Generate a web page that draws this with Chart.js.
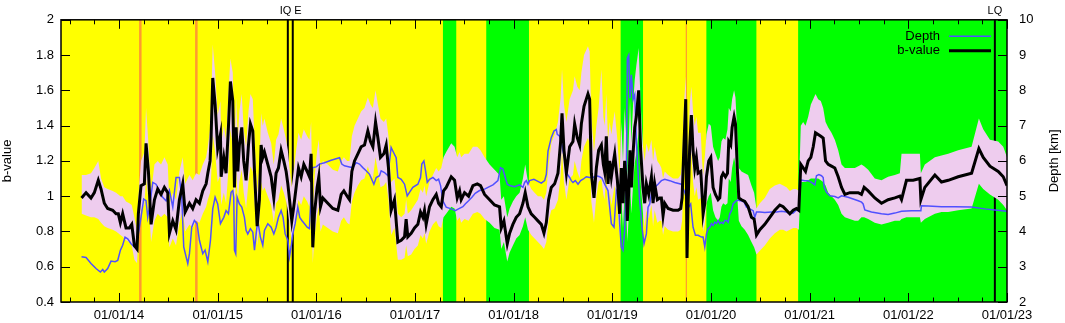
<!DOCTYPE html>
<html><head><meta charset="utf-8">
<script src="https://cdn.jsdelivr.net/npm/chart.js@4.4.0/dist/chart.umd.min.js"></script>
<style>html,body{margin:0;padding:0;background:#fff;}#wrap{width:1065px;height:323px;}</style>
</head><body><div id="wrap"><canvas id="c" width="1065" height="323"></canvas></div>
<script>
// ---------- DATA (x = decimal year) ----------
const yearTicks = [2014,2015,2016,2017,2018,2019,2020,2021,2022,2023];

const bYear = [
2013.620,2013.666,2013.716,2013.750,2013.790,2013.818,2013.851,2013.885,2013.936,2013.970,2013.993,2014.014,2014.037,2014.071,2014.105,2014.129,2014.156,2014.183,2014.196,
2014.223,2014.257,2014.274,2014.298,2014.325,2014.359,2014.392,2014.426,2014.460,2014.494,2014.511,2014.545,2014.578,2014.612,2014.646,2014.670,2014.714,2014.747,2014.781,2014.815,2014.849,2014.883,2014.900,2014.923,2014.933,2014.950,2014.974,2015.000,2015.028,
2015.035,2015.062,2015.085,2015.109,2015.129,2015.153,2015.170,2015.187,2015.204,2015.220,2015.244,2015.264,2015.288,2015.312,2015.332,2015.356,2015.373,2015.400,2015.423,2015.440,2015.457,2015.474,2015.508,2015.542,2015.569,2015.592,2015.616,2015.643,2015.670,2015.694,2015.711,2015.728,2015.751,
2015.771,2015.795,2015.819,2015.846,2015.873,2015.907,2015.930,2015.947,2015.964,2015.981,2016.008,2016.025,2016.042,2016.066,2016.116,2016.167,2016.218,2016.252,2016.279,2016.312,2016.336,
2016.360,2016.387,2016.421,2016.454,2016.488,2016.522,2016.549,2016.573,2016.600,2016.624,2016.650,
2016.684,2016.708,2016.731,2016.758,2016.792,2016.826,2016.860,2016.894,2016.910,2016.927,2016.961,2016.995,2017.029,2017.056,2017.080,2017.096,2017.113,2017.147,2017.181,2017.215,2017.239,2017.266,
2017.289,2017.316,2017.367,2017.401,2017.428,2017.452,2017.468,2017.502,2017.543,2017.587,2017.631,2017.664,2017.705,2017.756,2017.806,2017.857,
2017.874,2017.901,2017.935,2017.959,2017.992,2018.026,2018.060,2018.094,2018.117,2018.145,2018.178,2018.212,2018.246,
2018.280,2018.307,2018.331,2018.354,2018.381,2018.415,2018.449,2018.476,2018.490,2018.510,
2018.534,2018.567,2018.601,2018.618,2018.645,2018.669,2018.686,2018.713,2018.753,2018.770,
2018.787,2018.814,2018.838,2018.861,2018.889,2018.909,2018.922,2018.939,2018.956,2018.973,
2018.990,2019.007,2019.024,2019.041,2019.051,2019.074,2019.091,2019.108,2019.125,2019.142,
2019.152,2019.166,2019.179,2019.193,2019.210,2019.227,2019.243,2019.267,2019.287,2019.311,
2019.328,2019.345,2019.369,2019.396,2019.413,2019.429,2019.456,2019.480,2019.497,2019.514,
2019.531,2019.565,2019.615,2019.666,2019.693,2019.707,2019.724,2019.744,2019.757,2019.767,
2019.784,2019.801,2019.818,2019.835,2019.852,2019.869,2019.896,
2019.910,2019.920,2019.937,2019.954,2019.977,2019.998,2020.021,2020.045,2020.072,2020.089,2020.106,2020.123,2020.146,2020.167,2020.180,2020.200,2020.214,2020.234,2020.248,2020.268,2020.282,
2020.309,2020.342,2020.376,2020.410,2020.437,2020.461,2020.495,2020.545,2020.596,2020.647,2020.697,2020.731,2020.765,2020.799,2020.833,2020.866,2020.890,
2020.910,2020.934,2020.958,2020.985,2021.012,2021.036,2021.059,2021.086,2021.113,2021.137,2021.161,2021.188,2021.221,2021.255,2021.289,2021.323,2021.357,2021.407,2021.458,2021.492,
2021.525,2021.552,2021.593,2021.660,2021.728,2021.795,2021.863,2021.914,2021.931,2021.981,2022.049,2022.117,2022.127,2022.167,2022.269,2022.336,2022.404,2022.505,2022.641,2022.715,2022.759,2022.827,2022.911,2022.962,2023.000
];
const bValue = [
0.99,1.02,0.99,1.02,1.09,1.04,0.96,0.93,0.92,0.90,0.90,0.85,0.90,0.82,0.82,0.84,0.72,0.70,0.90,
1.06,1.07,1.30,1.14,0.84,0.98,1.04,1.01,1.05,1.02,0.79,0.86,0.81,0.98,1.07,0.91,0.96,0.93,0.98,0.96,1.03,1.07,1.13,1.20,1.33,1.67,1.52,1.27,1.35,
1.11,1.22,1.13,1.39,1.65,1.54,1.05,1.39,1.14,1.29,1.39,1.20,1.09,1.29,1.41,1.37,1.14,0.83,0.98,1.29,1.22,1.25,1.18,1.11,0.99,1.13,1.16,1.26,1.20,1.14,1.07,0.98,0.86,
0.94,1.05,1.16,1.11,1.18,1.14,1.11,1.24,0.71,0.90,1.05,1.11,0.94,0.99,0.96,0.93,0.92,1.01,1.03,1.00,0.98,
1.14,1.20,1.24,1.28,1.29,1.37,1.31,1.28,1.42,1.33,1.22,
1.24,1.29,1.16,0.92,0.98,0.74,0.75,0.77,0.87,0.77,0.79,0.82,0.84,0.91,0.88,0.92,0.84,0.94,0.98,1.01,0.96,0.94,
1.03,1.05,1.11,1.09,0.99,1.03,0.98,1.02,1.00,1.06,1.07,1.06,1.01,0.98,0.95,0.94,
0.82,0.86,0.73,0.79,0.84,0.88,0.90,0.96,1.02,0.94,0.90,0.88,0.86,
0.84,0.79,0.85,0.98,1.05,1.07,1.13,1.31,1.47,1.26,
1.13,1.28,1.31,1.41,1.33,1.29,1.41,1.51,1.58,1.55,
1.13,0.99,1.16,1.26,1.29,1.18,1.14,1.34,1.07,1.20,
1.11,1.18,1.24,1.14,1.09,0.90,1.16,0.96,1.20,1.07,
0.86,1.03,1.26,1.05,1.24,1.39,1.45,1.60,1.26,1.05,
0.96,1.07,1.01,1.11,0.96,1.07,0.98,0.99,0.99,0.89,
0.96,0.93,0.92,0.92,0.93,0.99,1.26,1.55,0.65,0.94,
1.28,1.46,1.26,1.16,1.22,1.13,1.14,
1.01,0.90,0.96,1.11,1.20,1.22,1.05,1.01,0.98,0.99,1.11,1.13,1.11,1.13,1.31,1.29,1.39,1.45,1.41,1.14,0.99,
0.98,0.97,0.94,0.88,0.87,0.78,0.81,0.84,0.88,0.92,0.95,0.94,0.92,0.90,0.92,0.93,0.92,
1.18,1.16,1.14,1.20,1.22,1.28,1.36,1.35,1.34,1.33,1.20,1.18,1.17,1.16,1.11,1.05,1.01,1.02,1.02,1.02,
1.01,1.05,1.03,0.99,0.96,0.98,0.99,1.00,0.98,1.09,1.09,1.10,0.98,1.05,1.12,1.08,1.09,1.11,1.13,1.27,1.22,1.17,1.14,1.11,1.06
];
const bUpper = [
1.12,1.12,1.13,1.16,1.20,1.10,1.05,1.04,1.03,1.02,1.01,1.00,1.00,0.97,0.96,0.95,0.88,0.80,0.99,
1.20,1.25,1.50,1.30,1.02,1.18,1.20,1.18,1.22,1.18,0.95,1.02,0.98,1.14,1.22,1.07,1.12,1.09,1.13,1.12,1.18,1.22,1.28,1.38,1.52,1.86,1.70,1.46,1.54,
1.30,1.40,1.32,1.58,1.78,1.70,1.25,1.56,1.32,1.48,1.58,1.38,1.28,1.48,1.58,1.55,1.33,1.02,1.16,1.47,1.40,1.44,1.36,1.30,1.18,1.32,1.35,1.44,1.38,1.32,1.26,1.16,1.05,
1.14,1.26,1.36,1.32,1.38,1.34,1.32,1.42,0.92,1.10,1.26,1.32,1.16,1.20,1.18,1.15,1.14,1.20,1.22,1.20,1.20,
1.34,1.40,1.44,1.48,1.50,1.56,1.52,1.50,1.60,1.52,1.44,
1.42,1.44,1.34,1.08,1.10,0.90,0.88,0.90,0.98,0.90,0.92,0.95,0.98,1.04,1.02,1.06,1.00,1.08,1.12,1.16,1.14,1.16,
1.22,1.25,1.30,1.28,1.22,1.25,1.22,1.24,1.24,1.28,1.28,1.26,1.22,1.18,1.15,1.12,
0.98,1.00,0.88,0.93,0.97,1.00,1.02,1.10,1.18,1.08,1.04,1.02,1.00,
1.00,0.98,1.02,1.18,1.30,1.35,1.42,1.56,1.72,1.52,
1.42,1.55,1.60,1.68,1.62,1.60,1.70,1.80,1.85,1.82,
1.45,1.25,1.40,1.50,1.72,1.45,1.40,1.58,1.32,1.42,
1.35,1.42,1.48,1.38,1.32,1.12,1.42,1.20,1.50,1.32,
1.10,1.30,1.55,1.30,1.52,1.66,1.74,1.84,1.52,1.28,
1.20,1.30,1.25,1.32,1.20,1.28,1.20,1.18,1.16,1.10,
1.14,1.12,1.10,1.10,1.12,1.18,1.50,1.68,0.90,1.18,
1.52,1.62,1.48,1.40,1.45,1.36,1.36,
1.20,1.12,1.22,1.35,1.41,1.40,1.28,1.24,1.20,1.22,1.31,1.33,1.32,1.38,1.50,1.48,1.55,1.60,1.56,1.34,1.16,
1.14,1.13,1.12,1.06,1.02,0.93,0.96,0.99,1.04,1.06,1.07,1.06,1.05,1.03,1.04,1.04,1.03,
1.40,1.42,1.40,1.45,1.52,1.55,1.58,1.55,1.54,1.50,1.42,1.39,1.36,1.32,1.26,1.18,1.16,1.16,1.16,1.17,
1.18,1.17,1.15,1.10,1.09,1.11,1.12,1.13,1.24,1.24,1.24,1.24,1.13,1.18,1.22,1.23,1.24,1.26,1.28,1.44,1.38,1.32,1.31,1.28,1.22
];
const bLower = [
0.90,0.89,0.88,0.88,0.87,0.85,0.83,0.82,0.81,0.80,0.79,0.78,0.77,0.75,0.74,0.72,0.64,0.62,0.78,
0.92,0.95,1.10,0.98,0.74,0.86,0.90,0.88,0.90,0.88,0.71,0.76,0.72,0.85,0.92,0.80,0.84,0.82,0.86,0.85,0.90,0.94,0.98,1.02,1.10,1.35,1.25,1.08,1.12,
0.95,1.02,0.96,1.15,1.38,1.28,0.90,1.15,0.97,1.08,1.15,1.02,0.93,1.08,1.17,1.14,0.97,0.72,0.84,1.08,1.03,1.05,1.00,0.95,0.85,0.96,0.98,1.06,1.02,0.97,0.92,0.84,0.74,
0.80,0.89,0.98,0.95,1.00,0.97,0.94,1.05,0.62,0.77,0.89,0.94,0.80,0.84,0.82,0.80,0.79,0.86,0.88,0.85,0.84,
0.97,1.02,1.06,1.09,1.10,1.17,1.12,1.10,1.22,1.14,1.05,
1.06,1.08,0.98,0.78,0.82,0.64,0.64,0.65,0.72,0.66,0.67,0.70,0.72,0.78,0.76,0.79,0.73,0.80,0.84,0.86,0.83,0.82,
0.88,0.90,0.94,0.93,0.86,0.88,0.85,0.87,0.86,0.90,0.91,0.90,0.87,0.85,0.82,0.81,
0.70,0.74,0.63,0.68,0.72,0.76,0.78,0.83,0.88,0.81,0.78,0.76,0.74,
0.72,0.70,0.74,0.86,0.92,0.93,0.98,1.12,1.25,1.08,
0.98,1.10,1.12,1.20,1.14,1.10,1.20,1.28,1.33,1.30,
0.97,0.85,1.00,1.08,1.10,1.01,0.98,1.15,0.92,1.03,
0.95,1.01,1.06,0.98,0.94,0.77,0.99,0.82,1.03,0.92,
0.74,0.88,1.08,0.90,1.06,1.19,1.24,1.37,1.08,0.90,
0.82,0.92,0.87,0.95,0.83,0.92,0.85,0.86,0.86,0.78,
0.83,0.81,0.80,0.80,0.81,0.86,1.08,1.32,0.62,0.82,
1.10,1.25,1.08,1.00,1.05,0.98,0.99,
0.88,0.80,0.84,0.96,1.00,1.02,0.92,0.88,0.86,0.88,0.94,0.96,0.95,0.96,1.10,1.08,1.16,1.22,1.18,0.98,0.86,
0.83,0.81,0.78,0.74,0.71,0.67,0.69,0.72,0.76,0.79,0.81,0.81,0.80,0.81,0.82,0.82,0.81,
1.08,1.08,1.08,1.09,1.10,1.10,1.10,1.10,1.09,1.08,1.06,1.02,1.00,0.98,0.95,0.90,0.88,0.87,0.86,0.86,
0.88,0.88,0.87,0.85,0.84,0.85,0.86,0.86,0.87,0.88,0.88,0.88,0.85,0.87,0.90,0.91,0.91,0.92,0.93,1.07,1.04,1.01,0.98,0.95,0.92
];

const depthYear = [
2013.620,2013.666,2013.716,2013.767,2013.811,2013.835,2013.851,2013.885,2013.919,2013.960,2013.987,2014.014,2014.037,2014.061,2014.088,2014.122,2014.156,2014.173,2014.196,2014.223,
2014.250,2014.274,2014.291,2014.318,2014.342,2014.375,2014.409,2014.443,2014.477,2014.511,2014.545,2014.578,2014.612,2014.636,2014.656,2014.680,2014.697,2014.714,2014.737,2014.764,
2014.791,2014.815,2014.849,2014.872,2014.900,2014.927,2014.950,2014.974,2015.000,2015.028,
2015.062,2015.085,2015.109,2015.136,2015.153,2015.163,2015.170,2015.183,2015.197,2015.220,2015.244,2015.271,2015.288,2015.305,2015.332,2015.356,2015.373,2015.390,2015.406,2015.433,
2015.457,2015.474,2015.508,2015.542,2015.569,2015.592,2015.616,2015.643,2015.663,2015.684,2015.711,2015.728,2015.744,2015.761,2015.785,2015.812,2015.832,2015.853,2015.880,2015.907,
2015.930,2015.947,2015.964,2015.998,2016.032,2016.082,2016.150,2016.235,2016.258,2016.285,2016.336,2016.370,2016.404,2016.437,2016.471,2016.505,2016.539,2016.583,2016.607,2016.640,
2016.657,2016.691,2016.725,2016.758,2016.775,2016.809,2016.826,2016.860,2016.894,2016.921,2016.944,2016.978,2017.029,2017.056,2017.069,2017.090,2017.107,2017.124,2017.147,2017.181,
2017.215,2017.239,2017.259,2017.282,2017.316,2017.367,2017.408,2017.441,2017.485,2017.509,2017.543,2017.577,2017.610,2017.654,2017.705,2017.739,2017.790,2017.840,2017.867,2017.891,
2017.915,2017.935,2017.959,2018.009,2018.060,2018.094,2018.111,2018.128,2018.145,2018.161,2018.205,2018.246,2018.280,
2018.314,2018.331,2018.348,2018.381,2018.408,2018.432,2018.442,2018.466,2018.483,2018.500,2018.523,2018.544,2018.567,2018.584,2018.601,2018.625,2018.652,2018.679,2018.703,2018.736,
2018.770,2018.804,2018.838,2018.872,2018.895,2018.922,2018.956,2018.973,2018.990,2019.017,2019.041,2019.058,2019.074,2019.091,2019.108,2019.125,2019.142,2019.152,2019.166,2019.179,
2019.193,2019.210,2019.227,2019.243,2019.260,2019.277,2019.301,2019.321,2019.345,2019.362,2019.379,2019.396,2019.429,2019.463,2019.497,2019.531,2019.582,2019.632,2019.700,2019.734,
2019.757,2019.774,2019.794,2019.818,2019.842,2019.869,2019.903,
2019.920,2019.937,2019.954,2019.971,2019.988,2020.004,2020.021,2020.038,2020.055,2020.072,2020.089,2020.106,2020.123,2020.140,2020.157,2020.173,2020.190,2020.207,2020.224,2020.241,
2020.258,2020.275,2020.292,2020.309,2020.336,2020.359,2020.393,2020.427,2020.444,2020.461,2020.495,2020.545,2020.613,2020.664,2020.714,2020.765,2020.799,2020.833,2020.866,2020.890,
2020.910,2020.951,2020.985,2021.019,2021.052,2021.069,2021.093,2021.120,2021.137,2021.147,2021.171,2021.205,2021.255,2021.289,2021.323,2021.390,2021.441,2021.492,2021.526,
2021.542,2021.559,2021.626,2021.728,2021.795,2021.863,2021.931,2022.032,2022.127,2022.133,2022.201,2022.336,2022.472,2022.641,2022.776,2022.877,2023.000
];
const depthKm = [
3.28,3.26,3.09,2.95,2.85,2.92,2.85,2.95,3.16,3.14,3.18,3.47,3.61,3.84,3.79,3.65,3.56,3.61,3.93,4.40,
4.92,4.87,4.40,4.87,5.39,5.34,5.16,4.97,4.87,5.16,4.69,5.53,5.53,4.97,3.56,3.28,3.09,3.37,4.12,4.31,
4.22,3.75,3.37,3.47,3.14,3.75,4.64,4.97,4.78,4.22,
4.40,4.59,4.50,5.11,5.16,4.97,3.47,3.37,4.97,4.78,4.69,4.40,4.03,3.93,4.08,3.98,3.47,3.93,4.31,3.84,
3.61,4.03,4.22,4.12,3.93,4.12,4.40,4.59,4.40,3.93,3.75,3.28,3.56,3.93,4.22,4.69,4.40,4.31,4.22,4.12,
4.08,5.06,5.81,5.83,5.91,5.95,6.02,6.09,5.91,5.86,5.83,5.81,5.95,5.91,5.81,5.72,5.62,5.34,5.53,5.58,
5.72,5.67,5.58,6.38,6.28,6.09,5.53,5.48,5.34,5.01,5.11,5.25,5.34,5.53,5.91,6.00,5.72,5.39,5.48,5.53,
5.44,5.48,5.30,4.87,4.69,4.64,4.59,4.64,4.70,4.78,4.87,4.97,5.08,5.16,5.20,5.25,5.32,5.44,5.81,5.77,
5.53,5.34,5.30,5.27,5.32,5.25,5.39,5.44,5.34,5.44,5.48,5.42,5.37,
5.44,5.62,6.28,6.66,6.85,6.89,6.75,6.70,6.56,6.28,6.00,5.62,5.53,5.44,5.39,5.44,5.34,5.44,5.48,5.55,
5.53,5.53,5.58,5.55,5.51,5.34,5.16,4.69,4.22,4.12,5.16,5.06,4.22,3.56,3.47,4.03,5.44,8.91,9.00,7.78,
8.44,7.74,7.88,6.56,5.72,4.87,4.12,3.65,3.93,4.69,4.78,5.06,5.25,5.34,5.44,5.48,5.44,5.39,5.34,5.11,
4.87,4.69,4.78,4.12,3.89,3.89,3.84,
3.84,3.56,3.93,4.08,4.12,4.22,4.17,4.26,4.22,4.31,4.22,4.26,4.22,4.31,4.31,4.26,4.50,4.59,4.78,4.83,
4.87,4.89,4.87,4.87,4.83,4.69,4.64,4.59,4.40,4.55,4.55,4.54,4.55,4.55,4.57,4.55,4.50,4.52,4.61,4.59,
5.46,5.44,5.44,5.39,5.32,5.58,5.61,5.58,5.53,5.25,5.11,5.01,4.99,4.95,5.01,4.97,4.92,4.87,4.83,
4.78,4.61,4.55,4.50,4.48,4.52,4.57,4.59,4.59,4.73,4.72,4.70,4.70,4.69,4.64,4.61,4.57
];

// background periods and event markers (decimal years)
const greenStart = [2017.283, 2017.722, 2019.084, 2019.953, 2020.883];
const greenEnd   = [2017.418, 2018.155, 2019.311, 2020.460, 2023.000];
const orangeEvents = [2014.216, 2014.784, 2019.750];
const blackEvents  = [2015.711, 2015.761, 2022.877];
const blackLabels  = ['IQ', 'E', 'LQ'];
const legendLabels = ['Depth', 'b-value'];

// ---------- STYLE ----------
const FONT = '"Liberation Sans", Arial, Helvetica, sans-serif';
const X_MIN = 2013.412, X_MAX = 2023.0;
const C_YELLOW = '#FFFF00', C_GREEN = '#00FF00', C_PINK = '#EECCEE';
const C_BLUE = '#5050FF', C_ORANGE = '#FF9A30';
const orangeWidths = [2.5, 2.5, 1.2];
const labelAlign = ['right', 'left', 'center'];
const labelOffset = [3.5, 1.5, 0];

const pts = (xs, ys) => xs.map((v, i) => ({x: v, y: ys[i]}));

const decor = {
  id: 'decor',
  beforeDatasetsDraw(chart) {
    const {ctx, chartArea: a, scales: {x}} = chart;
    ctx.save();
    ctx.fillStyle = C_YELLOW;
    ctx.fillRect(a.left, a.top, a.right - a.left, a.bottom - a.top);
    ctx.fillStyle = C_GREEN;
    for (let i = 0; i < greenStart.length; i++) {
      const x0 = x.getPixelForValue(greenStart[i]);
      const x1 = x.getPixelForValue(greenEnd[i]);
      ctx.fillRect(x0, a.top, x1 - x0, a.bottom - a.top);
    }
    ctx.strokeStyle = C_ORANGE;
    orangeEvents.forEach((v, i) => {
      const px = x.getPixelForValue(v);
      ctx.lineWidth = orangeWidths[i];
      ctx.beginPath(); ctx.moveTo(px, a.top); ctx.lineTo(px, a.bottom); ctx.stroke();
    });
    ctx.strokeStyle = '#000'; ctx.lineWidth = 2;
    blackEvents.forEach(v => {
      const px = x.getPixelForValue(v);
      ctx.beginPath(); ctx.moveTo(px, a.top); ctx.lineTo(px, a.bottom); ctx.stroke();
    });
    ctx.restore();
  },
  afterDatasetsDraw(chart) {
    const {ctx, chartArea: a, scales: {x, y, y2}} = chart;
    ctx.save();
    // ticks (inward, gnuplot style)
    ctx.strokeStyle = '#000'; ctx.lineWidth = 1;
    for (let q = Math.ceil(X_MIN * 4) / 4; q <= X_MAX + 1e-9; q += 0.25) {
      const px = Math.round(x.getPixelForValue(q)) + 0.5;
      const len = Math.abs(q - Math.round(q)) < 1e-6 ? 9 : 4.5;
      ctx.beginPath();
      ctx.moveTo(px, a.bottom); ctx.lineTo(px, a.bottom - len);
      ctx.moveTo(px, a.top); ctx.lineTo(px, a.top + len);
      ctx.stroke();
    }
    y.ticks.forEach(t => {
      const py = Math.round(y.getPixelForValue(t.value)) + 0.5;
      ctx.beginPath(); ctx.moveTo(a.left, py); ctx.lineTo(a.left + 9, py); ctx.stroke();
    });
    y2.ticks.forEach(t => {
      const py = Math.round(y2.getPixelForValue(t.value)) + 0.5;
      ctx.beginPath(); ctx.moveTo(a.right, py); ctx.lineTo(a.right - 9, py); ctx.stroke();
    });
    // frame
    ctx.lineWidth = 1.5;
    ctx.strokeRect(a.left, a.top, a.right - a.left, a.bottom - a.top);
    // legend
    ctx.font = '13px ' + FONT;
    ctx.fillStyle = '#000';
    ctx.textAlign = 'right'; ctx.textBaseline = 'middle';
    const lx = a.right - 67, ly = a.top + 16.5;
    ctx.fillText(legendLabels[0], lx, ly);
    ctx.fillText(legendLabels[1], lx, ly + 14.5);
    ctx.strokeStyle = C_BLUE; ctx.lineWidth = 1.5;
    ctx.beginPath(); ctx.moveTo(lx + 9, ly); ctx.lineTo(lx + 51, ly); ctx.stroke();
    ctx.strokeStyle = '#000'; ctx.lineWidth = 3;
    ctx.beginPath(); ctx.moveTo(lx + 9, ly + 14.5); ctx.lineTo(lx + 51, ly + 14.5); ctx.stroke();
    // event labels above plot
    ctx.font = '11px ' + FONT;
    ctx.textBaseline = 'middle';
    blackEvents.forEach((v, i) => {
      const px = x.getPixelForValue(v);
      ctx.textAlign = labelAlign[i];
      const off = labelAlign[i] === 'right' ? labelOffset[i] : labelOffset[i];
      ctx.fillText(blackLabels[i], px + off, a.top - 9);
    });
    // right axis title (reads bottom to top)
    ctx.font = '13px ' + FONT;
    ctx.textAlign = 'center';
    ctx.translate(1054, (a.top + a.bottom) / 2);
    ctx.rotate(-Math.PI / 2);
    ctx.fillText('Depth [km]', 0, 0);
    ctx.restore();
  }
};

const tickFont = {family: FONT, size: 13};

new Chart(document.getElementById('c'), {
  type: 'line',
  data: {
    datasets: [
      {label: 'lower', data: pts(bYear, bLower), yAxisID: 'y', borderWidth: 0, borderColor: 'rgba(0,0,0,0)', pointRadius: 0, fill: false, order: 3},
      {label: 'upper', data: pts(bYear, bUpper), yAxisID: 'y', borderWidth: 0, borderColor: 'rgba(0,0,0,0)', backgroundColor: C_PINK, pointRadius: 0, fill: '-1', order: 2},
      {label: 'Depth', data: pts(depthYear, depthKm), yAxisID: 'y2', borderColor: C_BLUE, borderWidth: 1.5, pointRadius: 0, fill: false, order: 1},
      {label: 'b-value', data: pts(bYear, bValue), yAxisID: 'y', borderColor: '#000', borderWidth: 3, pointRadius: 0, fill: false, order: 0, borderJoinStyle: 'miter'}
    ]
  },
  options: {
    responsive: false,
    animation: false,
    events: [],
    parsing: true,
    elements: {line: {tension: 0}},
    layout: {padding: {top: 18, left: 0, right: 0, bottom: 0}},
    plugins: {legend: {display: false}, tooltip: {enabled: false}},
    scales: {
      x: {
        type: 'linear', min: X_MIN, max: X_MAX,
        grid: {display: false, drawTicks: false}, border: {display: false},
        afterBuildTicks: s => { s.ticks = yearTicks.map(v => ({value: v})); },
        ticks: {callback: v => '01/01/' + String(v).slice(2), color: '#000', font: tickFont, padding: 6, maxRotation: 0, autoSkip: false},
        afterFit: s => { s.height = 21; }
      },
      y: {
        position: 'left', min: 0.4, max: 2,
        grid: {display: false, drawTicks: false}, border: {display: false},
        ticks: {stepSize: 0.2, callback: v => String(Number(v.toFixed(1))), color: '#000', font: tickFont, padding: 7},
        title: {display: true, text: 'b-value', color: '#000', font: tickFont, padding: {top: 0, bottom: 0}},
        afterFit: s => { s.width = 61; }
      },
      y2: {
        position: 'right', min: 2, max: 10,
        grid: {display: false, drawTicks: false}, border: {display: false},
        ticks: {stepSize: 1, color: '#000', font: tickFont, padding: 12},
        afterFit: s => { s.width = 58; }
      }
    }
  },
  plugins: [decor]
});
</script>
</body></html>
